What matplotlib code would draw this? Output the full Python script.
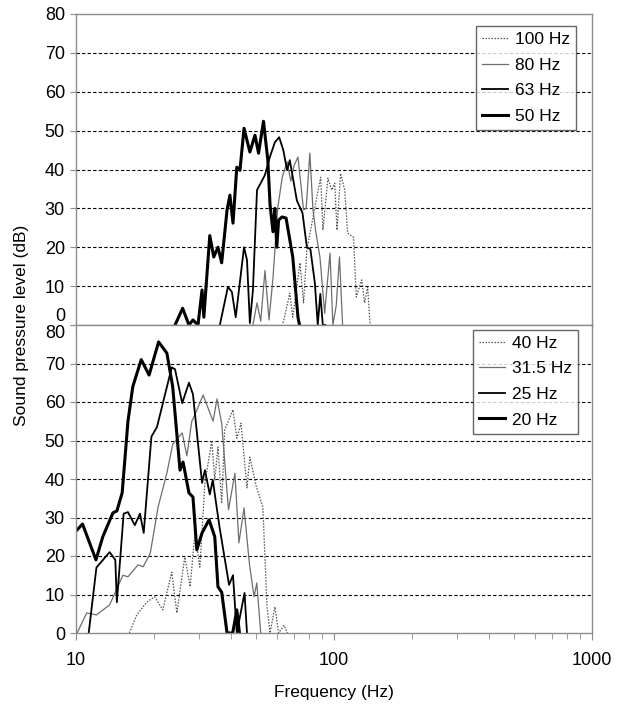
import numpy as np
import matplotlib.pyplot as plt
from matplotlib.ticker import LogLocator, NullFormatter, FixedLocator

plt.rcParams['font.family'] = ['Liberation Sans', 'DejaVu Sans']

# ---- top panel: 50 - 100 Hz bands ----
f100 = [63.5, 67.4, 69.2, 73.8, 76.2, 78.5, 82.0, 85.8, 88.8, 90.6, 94.7, 98.0,
        100.6, 102.7, 106.0, 110.0, 113.0, 119.0, 122.0, 128.0, 131.5, 135.0, 138.0]
db100 = [0.5, 8.2, 2, 16, 5.7, 19.3, 26, 33, 38, 24.4, 37.8, 34.7,
         36.5, 24.4, 39, 34.7, 23.6, 22.6, 7.2, 11.6, 5.7, 9.8, 0]

f80 = [48.5, 50.3, 52.0, 54.0, 56.0, 58.0, 60.5, 63.0, 65.8, 68.0, 70.0, 72.5,
       76.2, 78.0, 80.6, 82.9, 85.0, 88.2, 92.0, 96.5, 99.0, 102.0, 105.0, 108.0]
db80 = [0, 5.7, 1, 14, 1.3, 12, 30, 38, 42, 37, 41, 43.2,
        29.6, 30, 44.2, 29.6, 24, 17.5, 3, 18.5, 0, 5, 17.5, 0]

f63 = [36.1, 38.8, 40.2, 41.6, 44.8, 46.0, 47.2, 48.5, 50.3, 54.0, 56.4, 59.0,
       61.3, 63.6, 65.8, 67.4, 71.8, 75.5, 78.5, 81.0, 84.3, 86.5, 88.5, 90.5, 92.5]
db63 = [0, 9.8, 8.5, 2, 20, 16.7, 0.5, 9, 34.7, 38.6, 43.2, 47,
        48.3, 45, 39.8, 42.4, 32, 28.8, 20, 19.5, 10.8, 0, 8, 0, 0]

f50 = [24.2, 25.9, 27.4, 28.4, 29.7, 30.8, 31.3, 33.0, 34.2, 35.5, 36.7, 38.5,
       39.5, 40.6, 42.0, 43.2, 44.8, 47.2, 49.4, 51.0, 53.3, 55.4, 56.5, 58.0,
       59.0, 60.0, 61.0, 62.9, 65.2, 69.2, 72.5, 73.5]
db50 = [0, 4.3, 0, 1.3, 0, 9, 2, 23, 17.5, 20, 16, 29.6,
        33.4, 26.2, 40.6, 39.8, 50.6, 44.5, 48.8, 44.2, 52.4, 42.4, 31, 24,
        30, 20, 27, 27.8, 27.5, 17.5, 2, 0]

# ---- bottom panel: 20 - 40 Hz bands ----
f40 = [16.1, 17.2, 18.8, 20.2, 21.7, 23.5, 24.6, 26.4, 27.7, 28.9, 30.2, 31.6,
       33.6, 34.5, 35.5, 36.7, 37.7, 40.6, 42.0, 43.6, 46.0, 47.2, 50.0, 53.0,
       55.0, 56.5, 59.0, 61.0, 64.0, 66.0]
db40 = [0, 4.7, 8, 9.4, 6, 15.8, 5.2, 19.7, 12, 26, 17.1, 39,
        50, 39.7, 48.3, 33.7, 52.7, 58, 50.6, 54.5, 37.7, 45.7, 38, 32.7,
        6.8, 0, 6.8, 0, 2, 0]

f31 = [10.1, 11.0, 12.0, 13.5, 15.2, 15.9, 17.4, 18.2, 19.4, 20.8, 22.5, 23.7,
       25.8, 26.9, 28.1, 28.6, 31.1, 34.0, 35.2, 36.7, 39.0, 41.3, 42.8, 44.8,
       47.0, 49.0, 50.2, 52.0]
db31 = [0, 5.2, 4.7, 7.3, 15, 14.6, 17.7, 17.2, 20.7, 32.7, 41.5, 49,
        52, 46, 55, 56, 61.8, 55, 60.8, 54.5, 32, 41.5, 23.4, 32.5,
        18, 9.4, 13, 0]

f25 = [11.2, 12.0, 13.5, 14.2, 14.4, 15.3, 15.9, 16.9, 17.7, 18.3, 19.6, 20.6,
       23.5, 24.2, 25.8, 27.4, 28.4, 30.8, 31.6, 33.0, 33.9, 36.0, 39.2, 40.6,
       42.0, 45.0, 46.0]
db25 = [0, 17, 21, 19, 8, 31, 31.4, 28, 31, 26, 51, 53.5,
        69, 68.5, 59.7, 65, 62, 39, 42.3, 36, 39.7, 27.5, 12.5, 15,
        0, 10.4, 0]

f20 = [10.1, 10.6, 11.95, 12.7, 13.9, 14.4, 15.1, 15.9, 16.6, 17.9, 19.2, 20.9,
       22.5, 23.7, 25.3, 26.0, 27.4, 28.4, 29.4, 30.8, 32.8, 34.5, 35.5, 36.7,
       38.5, 40.5, 42.0, 43.0]
db20 = [26.8, 28.3, 19, 25, 31.2, 31.7, 36.4, 55, 64, 71, 67, 75.6,
        72.7, 64, 42.3, 44.4, 36.4, 35.3, 21.6, 26, 29.4, 25, 12, 10.6,
        0, 0, 6, 0]

top_series = [(f100, db100, '100 Hz'), (f80, db80, '80 Hz'),
              (f63, db63, '63 Hz'), (f50, db50, '50 Hz')]
bot_series = [(f40, db40, '40 Hz'), (f31, db31, '31.5 Hz'),
              (f25, db25, '25 Hz'), (f20, db20, '20 Hz')]

styles = [dict(color='#555555', lw=0.9, ls=(0, (1.2, 1.2))),
          dict(color='#6e6e6e', lw=0.9, ls='-'),
          dict(color='black', lw=1.3, ls='-'),
          dict(color='black', lw=2.2, ls='-')]

fig = plt.figure(figsize=(6.2, 7.05), dpi=100)
ax_top = fig.add_axes([76 / 620, 380 / 705, 516 / 620, 311 / 705])
ax_bot = fig.add_axes([76 / 620, 72 / 705, 516 / 620, 308 / 705])

for ax, series in [(ax_top, top_series), (ax_bot, bot_series)]:
    for (f, db, lab), st in zip(series, styles):
        ax.plot(f, db, label=lab, **st)
    ax.set_xscale('log')
    ax.set_xlim(10, 1000)
    ax.set_ylim(0, 80)
    ax.yaxis.set_major_locator(FixedLocator(range(0, 81, 10)))
    ax.xaxis.set_minor_locator(LogLocator(base=10, subs=np.arange(2, 10)))
    ax.xaxis.set_minor_formatter(NullFormatter())
    for y in range(10, 80, 10):
        ax.axhline(y, color='black', lw=0.8, ls=(0, (3, 2)), zorder=0)
    for s in ax.spines.values():
        s.set_color('#8c8c8c')
        s.set_linewidth(1.0)
    ax.tick_params(axis='both', which='both', direction='out', color='#8c8c8c',
                   labelsize=13, top=False, right=False)
    ax.tick_params(axis='x', which='major', length=5, pad=9)
    ax.tick_params(axis='x', which='minor', length=4)
    ax.tick_params(axis='y', length=4, pad=4)

ax_top.tick_params(axis='x', labelbottom=False)
ax_bot.set_xticks([10, 100, 1000])
ax_bot.set_xticklabels(['10', '100', '1000'])

# squeeze the "0" and "80" labels where the panels meet
fig.canvas.draw()
ax_top.get_yticklabels()[0].set_va('bottom')
ax_bot.get_yticklabels()[-1].set_va('top')

leg_kw = dict(loc='upper right', fontsize=12.5, frameon=True, fancybox=False,
              handlelength=1.5, handletextpad=0.4, borderpad=0.35,
              labelspacing=0.6, borderaxespad=0)
leg1 = ax_top.legend(bbox_to_anchor=(0.969, 0.961), **leg_kw)
leg2 = ax_bot.legend(bbox_to_anchor=(0.973, 0.985), **leg_kw)
for leg in (leg1, leg2):
    leg.get_frame().set_edgecolor('#404040')
    leg.get_frame().set_linewidth(1.0)

fig.text(0.035, (705 - 325) / 705, 'Sound pressure level (dB)', rotation=90,
         ha='center', va='center', fontsize=12.5)
ax_bot.set_xlabel('Frequency (Hz)', fontsize=12.5, labelpad=11)

fig.savefig('out.png', dpi=100)
